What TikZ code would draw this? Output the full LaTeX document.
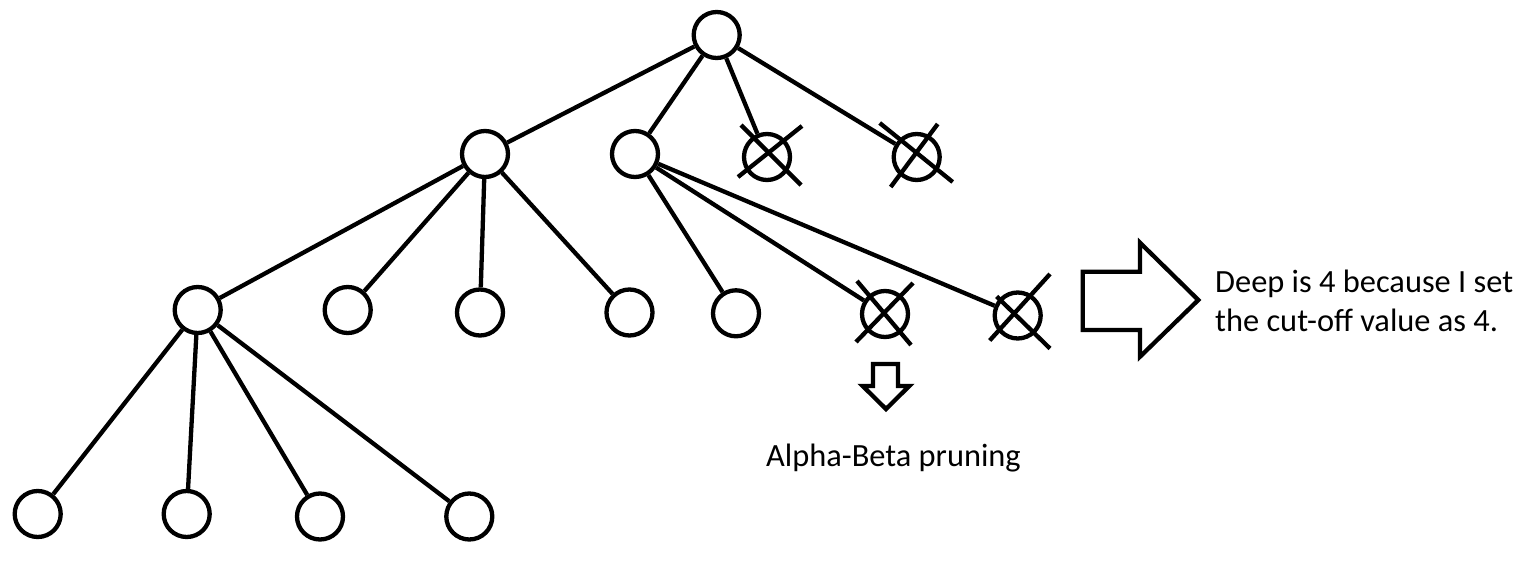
\documentclass[tikz,border=0pt]{standalone}
\usepackage{fontspec}
\setmainfont{Carlito}
\usetikzlibrary{calc}
\begin{document}
\begin{tikzpicture}[x=1pt,y=-1pt,
  tnode/.style={circle,draw,line width=4.3pt,minimum size=46pt,inner sep=0pt},
  edge/.style={line width=4.3pt},
  crossline/.style={line width=4.3pt},
  bigarrow/.style={draw,line width=4.3pt,line join=miter},
  label/.style={inner sep=0pt,anchor=base west,font=\fontsize{32.4}{38}\selectfont}]
\useasboundingbox (0,0) rectangle (1537,561);
% nodes
\node[tnode] (r) at (716.7,35) {};
\node[tnode] (a) at (485,154) {};
\node[tnode] (b) at (635,154) {};
\node[tnode] (x1) at (767,157) {};
\node[tnode] (x2) at (916.7,157) {};
\node[tnode] (c) at (197.7,310) {};
\node[tnode] (d) at (347.7,310) {};
\node[tnode] (e) at (480,312.5) {};
\node[tnode] (f) at (629.5,312.5) {};
\node[tnode] (g) at (736,313.3) {};
\node[tnode] (x3) at (885,314) {};
\node[tnode] (x4) at (1017.7,315.5) {};
\node[tnode] (h) at (37.7,514) {};
\node[tnode] (i) at (186.7,514) {};
\node[tnode] (j) at (320,516.5) {};
\node[tnode] (k) at (469.3,516.5) {};
% edges
\draw[edge] (r) -- (a);
\draw[edge] (r) -- (b);
\draw[edge] (r) -- (x1);
\draw[edge] (r) -- (x2);
\draw[edge] (a) -- (c);
\draw[edge] (a) -- (d);
\draw[edge] (a) -- (e);
\draw[edge] (a) -- (f);
\draw[edge] (b) -- (g);
\draw[edge] (b) -- (x3);
\draw[edge] (b) -- (x4);
\draw[edge] (c) -- (h);
\draw[edge] (c) -- (i);
\draw[edge] (c) -- (j);
\draw[edge] (c) -- (k);
% crosses
\draw[crossline] ($(x1)+(-26,-32)$) -- ($(x1)+(34,28)$);
\draw[crossline] ($(x1)+(-29,20)$) -- ($(x1)+(35,-31)$);
\draw[crossline] ($(x2)+(-37,-34)$) -- ($(x2)+(36,25)$);
\draw[crossline] ($(x2)+(-26,30)$) -- ($(x2)+(21,-33)$);
\draw[crossline] ($(x3)+(-28,-33)$) -- ($(x3)+(26,31)$);
\draw[crossline] ($(x3)+(-29,28)$) -- ($(x3)+(28,-31)$);
\draw[crossline] ($(x4)+(-28,25)$) -- ($(x4)+(32.3,-41.5)$);
\draw[crossline] ($(x4)+(-21,-19)$) -- ($(x4)+(32.3,33)$);
% arrows
\draw[bigarrow] (1082.7,271.7) -- (1140,271.7) -- (1140,242.7) -- (1198.3,300)
  -- (1140,356.7) -- (1140,330) -- (1082.7,330) -- cycle;
\draw[bigarrow] (873,364) -- (898,364) -- (898,386) -- (909.3,386) -- (886,409)
  -- (862.7,386) -- (873,386) -- cycle;
% texts
\node[label] (t1) at (1215,293) {Deep is 4 because I set};
\node[label] (t2) at (1215,331.7) {the cut-off value as 4.};
\node[label] (t3) at (766,466.7) {Alpha-Beta pruning};
\end{tikzpicture}
\end{document}
